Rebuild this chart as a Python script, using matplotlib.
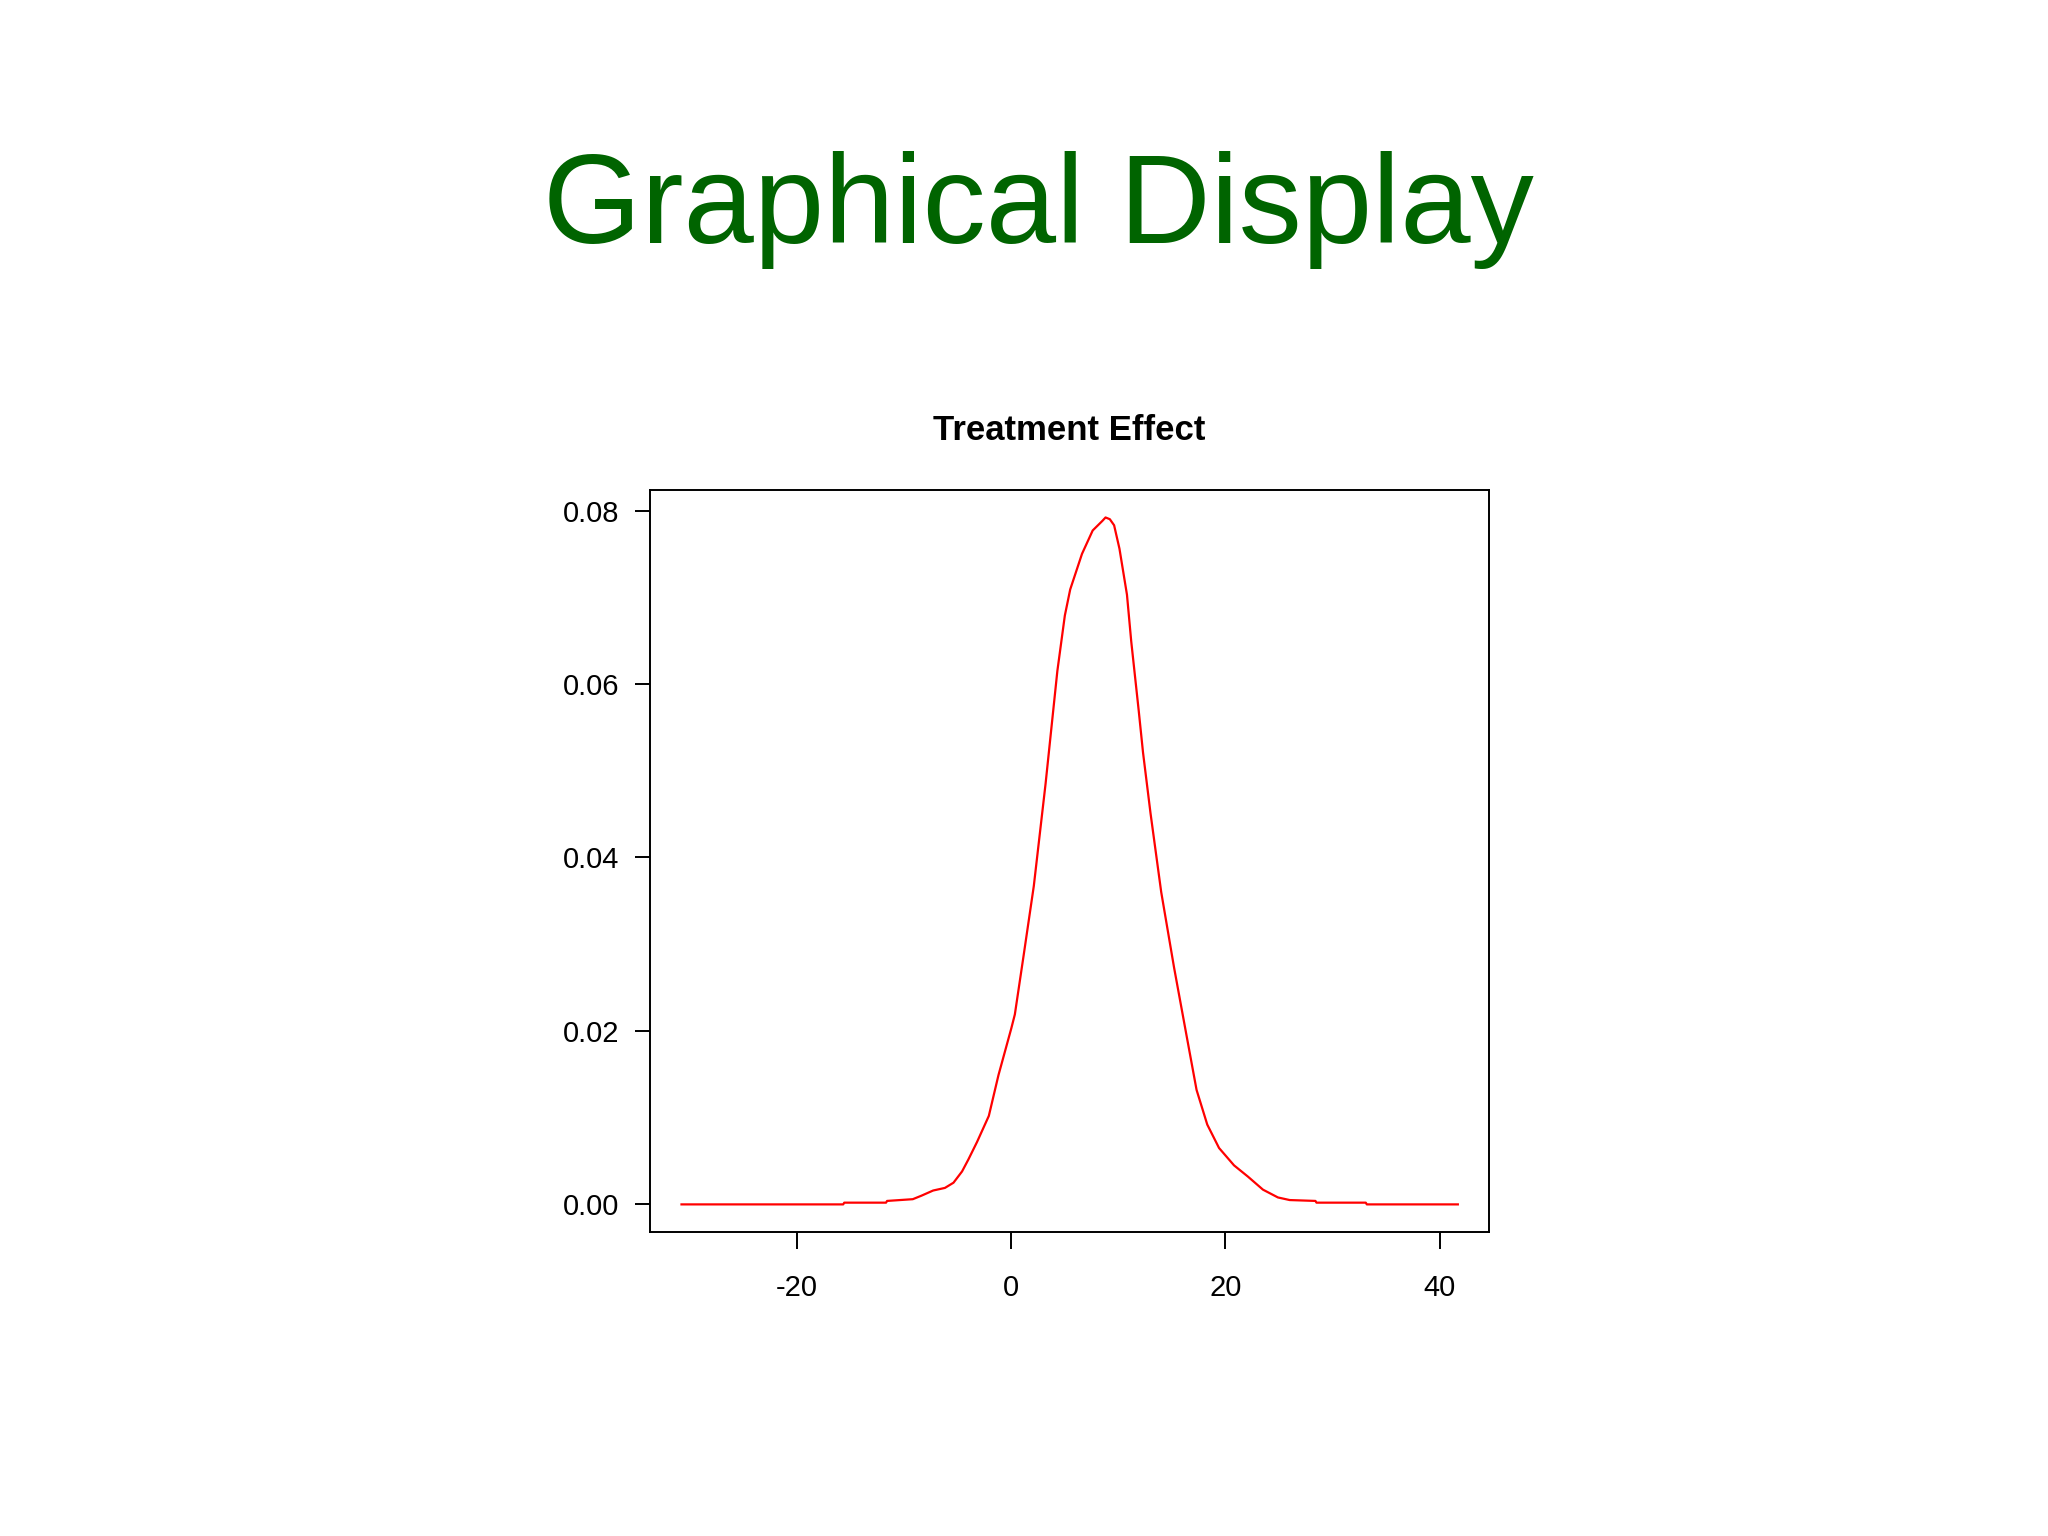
import numpy as np
import matplotlib.pyplot as plt

# density curve
effect = [-30.8, -15.7, -15.6, -11.7, -11.6, -9.2, -8.4, -7.3, -6.2, -5.4, -4.6,
          -4.0, -3.2, -2.1, -1.2, 0.0, 0.33, 1.15, 2.1, 3.2, 4.3, 5.0, 5.5, 6.6,
          7.6, 8.5, 8.8, 9.2, 9.6, 10.1, 10.8, 11.2, 11.9, 12.3, 13.0, 14.0, 15.2,
          16.3, 17.3, 18.3, 19.4, 20.8, 22.1, 23.5, 24.9, 26.0, 28.4, 28.5, 33.1,
          33.2, 41.7]
density = [0.0, 0.0, 0.0002, 0.0002, 0.0004, 0.0006, 0.0010, 0.0016, 0.0019,
           0.0025, 0.0038, 0.0052, 0.0072, 0.0102, 0.0149, 0.0203, 0.0219, 0.0287,
           0.0367, 0.0485, 0.0615, 0.0679, 0.0709, 0.0750, 0.0777, 0.0788, 0.0792,
           0.0790, 0.0783, 0.0756, 0.0703, 0.0649, 0.0569, 0.0521, 0.0451, 0.0360,
           0.0273, 0.0199, 0.0132, 0.0092, 0.0065, 0.0045, 0.0032, 0.0017, 0.0008,
           0.0005, 0.0004, 0.0002, 0.0002, 0.0, 0.0]

xticks = [-20, 0, 20, 40]
yticks = [0.00, 0.02, 0.04, 0.06, 0.08]

plt.rcParams['font.family'] = ['Liberation Sans', 'DejaVu Sans']

fig = plt.figure(figsize=(20.48, 15.36), dpi=100)
fig.text(0.507, 0.842, "Graphical Display", ha="center", va="baseline",
         fontsize=91, color="#006400")

ax = fig.add_axes([0.3176, 0.198, 0.7270 - 0.3176, 0.681 - 0.198])
ax.plot(effect, density, color="#ff0000", lw=1.6)

xr = max(effect) - min(effect)
yr = max(density) - min(density)
ax.set_xlim(min(effect) - 0.04 * xr, max(effect) + 0.04 * xr)
ax.set_ylim(min(density) - 0.04 * yr, max(density) + 0.04 * yr)

ax.set_xticks(xticks)
ax.set_xticklabels([str(t) for t in xticks])
ax.set_yticks(yticks)
ax.set_yticklabels([f"{t:.2f}" for t in yticks])
ax.tick_params(axis="y", length=10.5, width=1.4, pad=12, labelsize=21)
ax.tick_params(axis="x", length=12, width=1.4, pad=18, labelsize=21)
for s in ax.spines.values():
    s.set_linewidth(1.4)

ax.set_title("Treatment Effect", fontsize=25, fontweight="bold", pad=36)

fig.savefig("out.png", dpi=100, facecolor="white")
